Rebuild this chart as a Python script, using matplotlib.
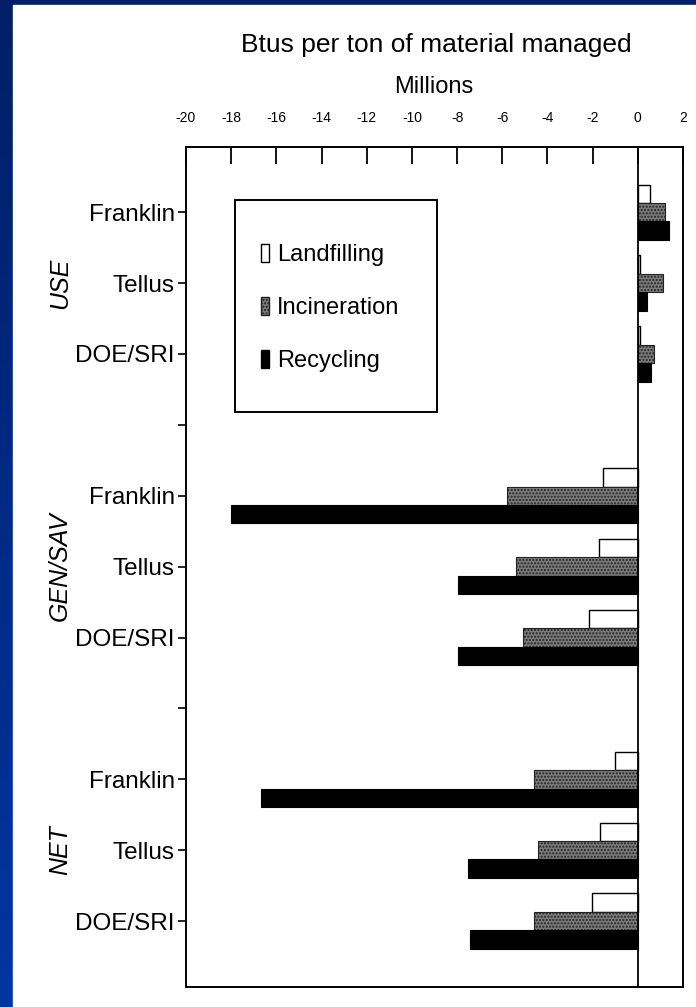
import numpy as np
import matplotlib.pyplot as plt
from matplotlib.patches import Rectangle, Patch

plt.rcParams['font.family'] = ['Liberation Sans', 'DejaVu Sans']

# ---- data (millions of Btu per ton of material managed) ----
models = ["Franklin", "Tellus", "DOE/SRI"]
groups = ["USE", "GEN/SAV", "NET"]
landfilling = [0.55, 0.1, 0.1, -1.53, -1.7, -2.15, -1.0, -1.66, -2.03]
incineration = [1.2, 1.1, 0.7, -5.8, -5.4, -5.1, -4.6, -4.4, -4.6]
recycling = [1.4, 0.4, 0.6, -18.0, -7.95, -7.95, -16.7, -7.5, -7.45]
x_ticks = list(range(-20, 3, 2))

# row positions: three models per group, one empty row between groups
pos = [4 * g + i for g in range(len(groups)) for i in range(len(models))]
h = 0.26

fig = plt.figure(figsize=(6.96, 10.07), dpi=100)

# blue slide background with white page
bg = fig.add_axes([0, 0, 1, 1], zorder=-10)
grad = np.linspace(0, 1, 256).reshape(-1, 1)
bg.imshow(grad, aspect='auto', extent=[0, 1, 0, 1], origin='lower',
          cmap=plt.matplotlib.colors.LinearSegmentedColormap.from_list('b', ['#0035a0', '#001f66']))
bg.add_patch(Rectangle((13 / 696, 0), 1, 1 - 5 / 1007, color='white'))
bg.set_xlim(0, 1)
bg.set_ylim(0, 1)
bg.axis('off')

ax = fig.add_axes([186 / 696, 20 / 1007, 497 / 696, 840 / 1007])

ax.barh([p - h for p in pos], landfilling, height=h, color='white', edgecolor='black', lw=1)
ax.barh(pos, incineration, height=h, color='#7a7a7a', edgecolor='#222222', hatch='.....', lw=0.8)
ax.barh([p + h for p in pos], recycling, height=h, color='black', edgecolor='black', lw=0.8)
ax.axvline(0, color='black', lw=1.3)

ax.set_xlim(-20, 2)
ax.set_ylim(10.93, -0.92)

ax.xaxis.tick_top()
ax.set_xticks(x_ticks)
ax.set_xticklabels([str(t) for t in x_ticks], fontsize=10)
ax.tick_params(axis='x', direction='in', length=12, width=1.3, pad=16, top=True, bottom=False)

yt = list(range(11))
ylabels = []
for i in yt:
    ylabels.append(models[i % 4] if i % 4 < 3 else '')
ax.set_yticks(yt)
ax.set_yticklabels(ylabels, fontsize=17.5)
ax.tick_params(axis='y', direction='out', length=6, width=1.2, pad=2)

for s in ax.spines.values():
    s.set_linewidth(1.4)

# rotated group labels
for g, name in enumerate(groups):
    ax.text(-0.2535, 4 * g + 1, name, transform=ax.get_yaxis_transform(),
            rotation=90, ha='center', va='center', fontsize=18, style='italic')

fig.text(436 / 696, 1 - 45 / 1007, "Btus per ton of material managed",
         ha='center', va='center', fontsize=19)
fig.text(434 / 696, 1 - 87 / 1007, "Millions", ha='center', va='center', fontsize=17)

# legend with a roomy frame
handles = [Patch(facecolor='white', edgecolor='black'),
           Patch(facecolor='#7a7a7a', edgecolor='#222222', hatch='.....'),
           Patch(facecolor='black', edgecolor='black')]
ax.legend(handles, ["Landfilling", "Incineration", "Recycling"],
          loc='center', bbox_to_anchor=(330 / 696, 1 - 308 / 1007),
          bbox_transform=fig.transFigure, frameon=False, fontsize=17,
          handlelength=0.35, handleheight=0.8, handletextpad=0.35, labelspacing=1.3)
ax.add_patch(Rectangle((235 / 696, 1 - 412 / 1007), 202 / 696, 212 / 1007,
                       transform=fig.transFigure, fill=False, edgecolor='black',
                       lw=1.4, clip_on=False))

fig.savefig("out.png", dpi=100)
